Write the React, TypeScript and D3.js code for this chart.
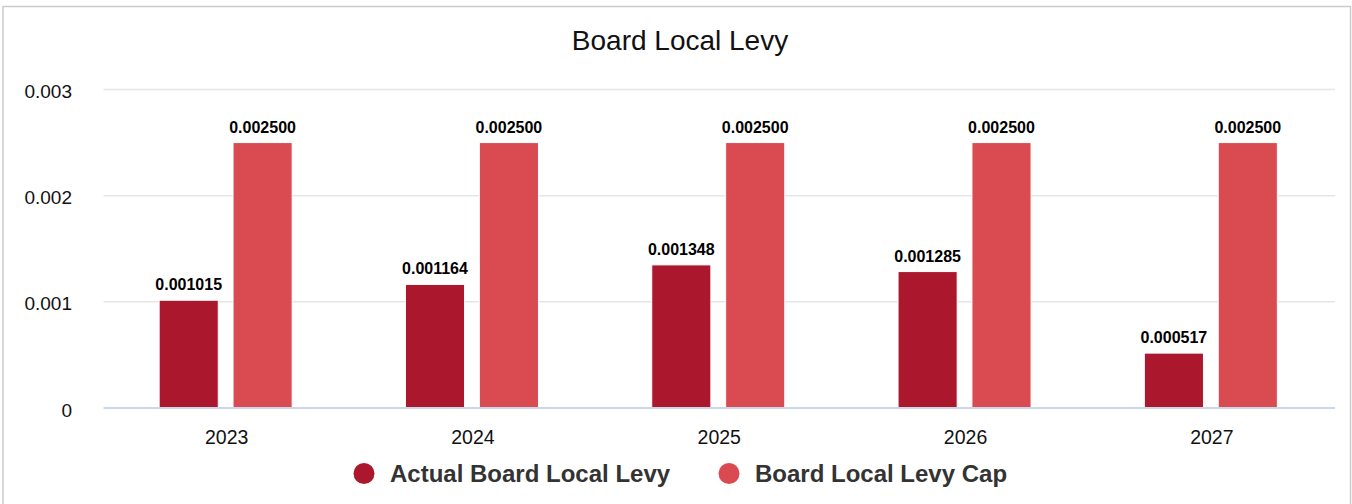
import React from "react";
import * as d3 from "d3";

const categories = ["2023", "2024", "2025", "2026", "2027"];
const seriesNames = ["Actual Board Local Levy", "Board Local Levy Cap"];
const actualLevy = [0.001015, 0.001164, 0.001348, 0.001285, 0.000517];
const levyCap = [0.0025, 0.0025, 0.0025, 0.0025, 0.0025];
const yTicks = [0, 0.001, 0.002, 0.003];
const colors = ["#ab172c", "#d94a51"];

const W = 1352;
const H = 504;
const plot = { left: 103.5, right: 1335, top: 89.5, bottom: 408 };
const FONT = "'Liberation Sans', Arial, Helvetica, sans-serif";
const legendX = [364, 729];
const legendY = 473.5;

export default function App() {
  const seriesValues = [actualLevy, levyCap];
  const x0 = d3.scaleBand<string>().domain(categories).range([plot.left, plot.right]).padding(0);
  const bw = x0.bandwidth();
  const x1 = d3
    .scaleBand<string>()
    .domain(seriesNames)
    .range([bw * 0.2, bw * 0.8])
    .paddingInner(0.2)
    .paddingOuter(0.1);
  const y = d3.scaleLinear().domain([0, 0.003]).range([plot.bottom, plot.top]);

  return (
    <svg
      width={W}
      height={H}
      style={{ position: "absolute", left: 0, top: 0, background: "#fff" }}
      fontFamily={FONT}
    >
      <rect x={3} y={6.5} width={1347.5} height={600} fill="#fff" stroke="#cccccc" strokeWidth={1.5} />
      <text x={680} y={50} textAnchor="middle" fontSize={28} fill="#111">
        Board Local Levy
      </text>
      {yTicks.map((t) => (
        <g key={t}>
          {t !== 0 && (
            <line x1={plot.left} x2={plot.right} y1={y(t)} y2={y(t)} stroke="#e6e6e6" strokeWidth={1.5} />
          )}
          <text x={72} y={y(t) + 8.5} textAnchor="end" fontSize={19} fill="#111">
            {t === 0 ? "0" : d3.format(".3f")(t)}
          </text>
        </g>
      ))}
      {categories.map((c, i) => (
        <g key={c} transform={`translate(${x0(c)},0)`}>
          {seriesNames.map((s, si) => {
            const v = seriesValues[si][i];
            const bx = (x1(s) as number) - 1;
            const bwid = x1.bandwidth();
            return (
              <g key={s}>
                <rect
                  x={bx}
                  y={y(v)}
                  width={bwid}
                  height={plot.bottom - y(v)}
                  fill={colors[si]}
                  stroke="#fff"
                  strokeWidth={1}
                />
                <text
                  x={bx + bwid / 2}
                  y={y(v) - 10}
                  textAnchor="middle"
                  fontSize={16}
                  fontWeight="bold"
                  fill="#000"
                >
                  {d3.format(".6f")(v)}
                </text>
              </g>
            );
          })}
          <text x={bw / 2} y={444} textAnchor="middle" fontSize={19.5} fill="#111">
            {c}
          </text>
        </g>
      ))}
      <line x1={plot.left} x2={plot.right} y1={plot.bottom} y2={plot.bottom} stroke="#ccd6eb" strokeWidth={2} />
      {seriesNames.map((s, si) => (
        <g key={s}>
          <circle cx={legendX[si]} cy={legendY} r={10.5} fill={colors[si]} />
          <text x={legendX[si] + 26} y={legendY + 8.5} fontSize={24} fontWeight="bold" fill="#333">
            {s}
          </text>
        </g>
      ))}
    </svg>
  );
}
